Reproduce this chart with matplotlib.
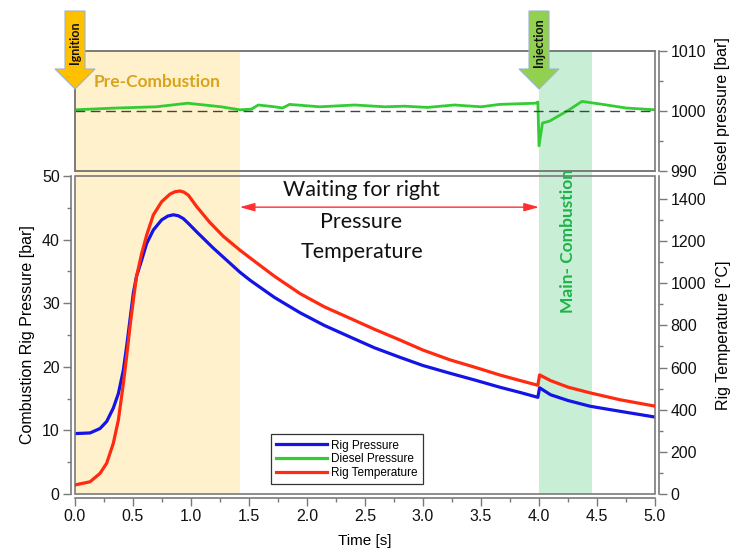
import matplotlib
matplotlib.use("Agg")
import matplotlib.pyplot as plt
from matplotlib.patches import Rectangle, FancyArrow
from matplotlib.transforms import blended_transform_factory, IdentityTransform

plt.rcParams['font.family'] = ['Liberation Sans', 'DejaVu Sans']

# rig pressure [bar] (blue)
t_rig_p = [0, 0.13, 0.216, 0.273, 0.33, 0.374, 0.417, 0.445, 0.474, 0.503, 0.53, 0.575,
           0.618, 0.675, 0.747, 0.8, 0.848, 0.89, 0.934, 0.98, 1.05, 1.19, 1.42, 1.51,
           1.72, 1.94, 2.15, 2.37, 2.58, 2.8, 3.0, 3.23, 3.45, 3.66, 3.83, 3.99, 4.005,
           4.1, 4.25, 4.44, 4.7, 5.0]
rig_p = [9.5, 9.6, 10.3, 11.4, 13.5, 15.8, 19.5, 23.2, 27.4, 31.6, 34.2, 36.8,
         39.4, 41.5, 43.1, 43.7, 43.9, 43.75, 43.3, 42.5, 41.2, 38.7, 34.9, 33.6,
         30.9, 28.5, 26.5, 24.7, 23.0, 21.5, 20.2, 19.0, 17.9, 16.8, 16.0, 15.2, 16.7,
         15.6, 14.7, 13.8, 13.0, 12.1]

# rig temperature [°C] (red)
t_rig_T = [0, 0.13, 0.216, 0.273, 0.33, 0.374, 0.417, 0.445, 0.474, 0.503, 0.53, 0.575,
           0.618, 0.675, 0.747, 0.819, 0.86, 0.905, 0.94, 0.977, 1.05, 1.16, 1.28, 1.42,
           1.51, 1.72, 1.94, 2.15, 2.37, 2.58, 2.8, 3.0, 3.23, 3.45, 3.66, 3.84, 3.99,
           4.005, 4.1, 4.25, 4.44, 4.7, 5.0]
rig_T = [43, 58, 98, 146, 240, 351, 525, 652, 794, 921, 1031, 1142,
         1229, 1324, 1387, 1423, 1434, 1438, 1432, 1418, 1363, 1290, 1222, 1158,
         1120, 1033, 951, 888, 834, 782, 731, 683, 637, 601, 565, 538, 516,
         565, 538, 507, 480, 447, 417]

# diesel pressure [bar] (green)
t_diesel = [0, 0.36, 0.7, 0.97, 1.26, 1.42, 1.52, 1.58, 1.72, 1.79, 1.85, 2.11, 2.41,
            2.67, 2.84, 3.04, 3.27, 3.5, 3.66, 3.97, 3.99, 4.0, 4.03, 4.09, 4.26, 4.37,
            4.55, 4.75, 5.0]
diesel_p = [1000.2, 1000.5, 1000.7, 1001.3, 1000.7, 1000.2, 1000.3, 1001.0, 1000.7,
            1000.5, 1001.1, 1000.7, 1001.0, 1000.7, 1000.8, 1000.6, 1001.0, 1000.7,
            1001.1, 1001.3, 1001.5, 994.2, 998.0, 998.3, 1000.2, 1001.6, 1001.1, 1000.5,
            1000.2]

pre_comb = (0.0, 1.42)
main_comb = (4.0, 4.46)

W, H = 739, 552
fig = plt.figure(figsize=(W / 100, H / 100), dpi=100)
gray = '#7a7a7a'

L, R = 75 / W, 655 / W
ax = fig.add_axes([L, 58 / H, R - L, 318 / H])
ax_top = fig.add_axes([L, 381 / H, R - L, 120 / H])
ax2 = ax.twinx()
for a in (ax, ax_top, ax2):
    a.set_facecolor('none')

# shaded phases spanning both panels
tr = blended_transform_factory(ax.transData, fig.transFigure)
fig.add_artist(Rectangle((pre_comb[0], 58 / H), pre_comb[1] - pre_comb[0], 443 / H,
                         transform=tr, color='#fff1cc', zorder=-5, lw=0))
fig.add_artist(Rectangle((main_comb[0], 58 / H), main_comb[1] - main_comb[0], 443 / H,
                         transform=tr, color='#c8eed6', zorder=-5, lw=0))

# lines
ax.plot(t_rig_p, rig_p, color='#1414e6', lw=2.3, label='Rig Pressure')
ax2.plot(t_rig_T, rig_T, color='#ff2a10', lw=2.3, label='Rig Temperature')
ax_top.plot(t_diesel, diesel_p, color='#33cc33', lw=2.0)
ax_top.axhline(1000, color='#444444', lw=1, dashes=(7, 4))

ax.set_xlim(0, 5)
ax.set_ylim(0, 50)
ax2.set_ylim(0, 1509)
ax_top.set_xlim(0, 5)
ax_top.set_ylim(990, 1010)

ax.set_xticks([i * 0.5 for i in range(11)])
ax.set_xticklabels(['%.1f' % (i * 0.5) for i in range(11)])
ax.set_xticks([0.25 + i * 0.5 for i in range(10)], minor=True)
ax.set_yticks(range(0, 51, 10))
ax.set_yticks(range(5, 50, 10), minor=True)
ax2.set_yticks(range(0, 1401, 200))
ax2.set_yticks(range(100, 1500, 200), minor=True)
ax_top.set_yticks([990, 1000, 1010])
ax_top.set_yticks([995, 1005], minor=True)
ax_top.set_xticks([])

for a in (ax, ax2, ax_top):
    for s in a.spines.values():
        s.set_color(gray)
        s.set_linewidth(1.2)
    a.tick_params(which='major', length=6, width=1, color=gray, labelsize=11.5,
                  labelcolor='#111111', pad=2)
    a.tick_params(which='minor', length=3, width=1, color=gray)

ax.spines['left'].set_position(('outward', 3))
ax.spines['bottom'].set_position(('outward', 3))
ax.spines['top'].set_visible(False)
ax.spines['right'].set_visible(False)
ax2.spines['right'].set_position(('outward', 3))
for s in ('left', 'top', 'bottom'):
    ax2.spines[s].set_visible(False)
ax_top.yaxis.tick_right()
ax_top.yaxis.set_label_position('right')
ax_top.spines['right'].set_position(('outward', 3))
for a in (ax, ax_top):
    a.add_patch(Rectangle((0, 0), 1, 1, transform=a.transAxes, fill=False,
                          ec=gray, lw=1.2, clip_on=False, zorder=5))

ax.set_xlabel('Time [s]', fontsize=11, labelpad=7)
ax.set_ylabel('Combustion Rig Pressure [bar]', fontsize=11.5, labelpad=5)
ax2.set_ylabel('Rig Temperature [°C]', fontsize=11.5, labelpad=7)
ax_top.set_ylabel('Diesel pressure [bar]', fontsize=11.5, labelpad=7)

# legend
h_green, = ax.plot([], [], color='#33cc33', lw=2.3, label='Diesel Pressure')
h_blue = ax.get_lines()[0]
h_red = ax2.get_lines()[0]
leg = ax2.legend([h_blue, h_green, h_red], ['Rig Pressure', 'Diesel Pressure', 'Rig Temperature'],
                 loc='lower left', bbox_to_anchor=(0.338, 0.03), fontsize=8.5,
                 fancybox=False, framealpha=1, edgecolor='#333333', handlelength=4.3,
                 handletextpad=0.35, labelspacing=0.15, borderpad=0.45, borderaxespad=0)
leg.get_frame().set_linewidth(0.9)

# annotations
calibri = ['Lato', 'DejaVu Sans']
ax.annotate('', xy=(pre_comb[1], 45.1), xytext=(main_comb[0], 45.1),
            arrowprops=dict(arrowstyle='<|-|>,head_length=0.9,head_width=0.25',
                            color='#ff3030', lw=1, shrinkA=0, shrinkB=0))
ax.text(2.47, 47.8, 'Waiting for right', family=calibri, fontsize=15.5, color='#111111',
        ha='center', va='center')
ax.text(2.47, 42.8, 'Pressure', family=calibri, fontsize=15.5, color='#111111',
        ha='center', va='center')
ax.text(2.47, 38.0, 'Temperature', family=calibri, fontsize=15.5, color='#111111',
        ha='center', va='center')
ax_top.text(0.16, 1004.8, 'Pre-Combustion', family=calibri, fontsize=12.5, color='#d9a41c',
            fontweight='bold', ha='left', va='center')
ax2.text(4.25, 1200, 'Main- Combustion', family=calibri, fontsize=12.5, color='#1fb24a',
         fontweight='bold', rotation=90, ha='center', va='center', zorder=6)

# event arrows (figure pixels)
for t_ev, txt, col in ((pre_comb[0], 'Ignition', '#ffc000'), (main_comb[0], 'Injection', '#92d050')):
    x_px = ax.transData.transform((t_ev, 0))[0]
    fig.add_artist(FancyArrow(x_px, H - 11, 0, -78, width=20, head_width=40, head_length=20,
                              length_includes_head=True, fc=col, ec='#9db3cc', lw=0.8,
                              transform=IdentityTransform(), zorder=10))
    fig.text(x_px / W, (H - 43) / H, txt, rotation=90, ha='center', va='center',
             family=calibri, fontsize=9, fontweight='bold', color='#111111', zorder=11)

fig.savefig('out.png', dpi=100)
